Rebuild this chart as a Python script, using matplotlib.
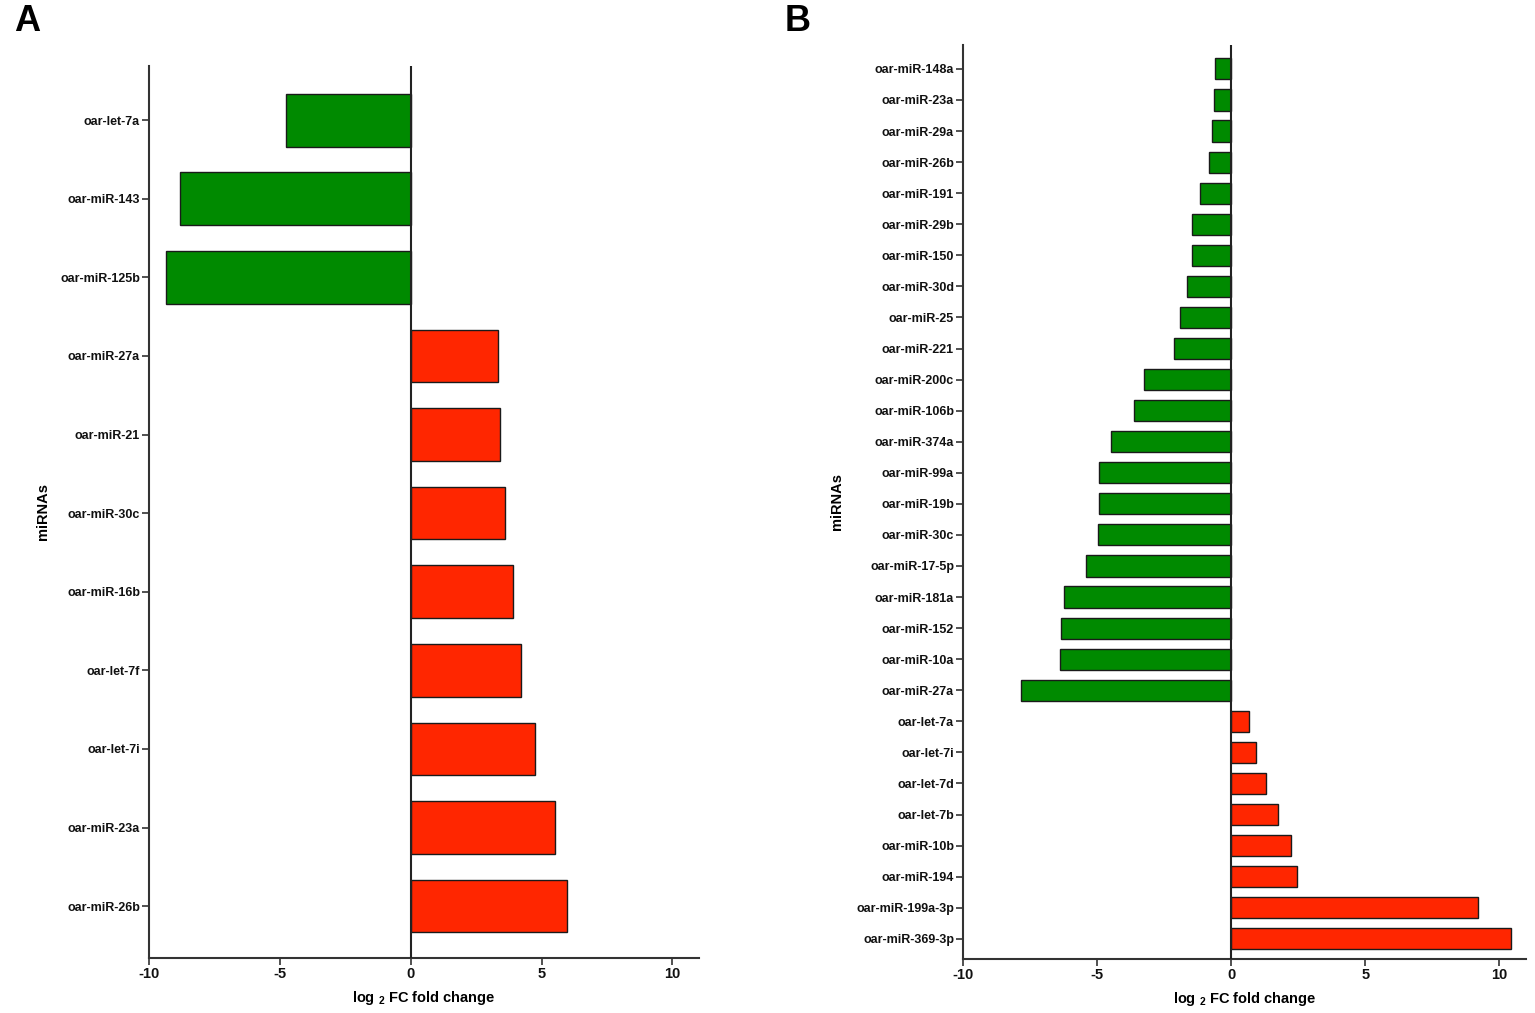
import matplotlib
matplotlib.use("Agg")
import matplotlib.pyplot as plt

plt.rcParams['font.family'] = ['Liberation Sans', 'DejaVu Sans']
plt.rcParams['font.weight'] = 'bold'
plt.rcParams['mathtext.fontset'] = 'custom'
plt.rcParams['mathtext.rm'] = 'Liberation Sans:bold'
plt.rcParams['mathtext.bf'] = 'Liberation Sans:bold'

# Panel A data (top to bottom)
labels_a = ["oar-let-7a", "oar-miR-143", "oar-miR-125b", "oar-miR-27a", "oar-miR-21",
            "oar-miR-30c", "oar-miR-16b", "oar-let-7f", "oar-let-7i", "oar-miR-23a",
            "oar-miR-26b"]
values_a = [-4.77, -8.82, -9.35, 3.32, 3.40, 3.59, 3.89, 4.20, 4.73, 5.53, 5.99]

# Panel B data (top to bottom)
labels_b = ["oar-miR-148a", "oar-miR-23a", "oar-miR-29a", "oar-miR-26b", "oar-miR-191",
            "oar-miR-29b", "oar-miR-150", "oar-miR-30d", "oar-miR-25", "oar-miR-221",
            "oar-miR-200c", "oar-miR-106b", "oar-miR-374a", "oar-miR-99a", "oar-miR-19b",
            "oar-miR-30c", "oar-miR-17-5p", "oar-miR-181a", "oar-miR-152", "oar-miR-10a",
            "oar-miR-27a", "oar-let-7a", "oar-let-7i", "oar-let-7d", "oar-let-7b",
            "oar-miR-10b", "oar-miR-194", "oar-miR-199a-3p", "oar-miR-369-3p"]
values_b = [-0.60, -0.63, -0.71, -0.82, -1.16, -1.46, -1.46, -1.64, -1.90, -2.13,
            -3.25, -3.62, -4.48, -4.93, -4.93, -4.96, -5.41, -6.23, -6.34, -6.38,
            -7.84, 0.67, 0.93, 1.31, 1.75, 2.24, 2.46, 9.22, 10.45]

xticks = [-10, -5, 0, 5, 10]
xtick_labels = ["-10", "-5", "0", "5", "10"]

GREEN = "#008a00"
RED = "#ff2600"
SPINE = "#333333"

fig = plt.figure(figsize=(15.35, 10.13), dpi=100)

def draw(ax, labels, values, height, ylim_top, ylim_bot):
    n = len(labels)
    pos = list(range(n))
    colors = [GREEN if v < 0 else RED for v in values]
    ax.barh(pos, values, height=height, color=colors, edgecolor="#1a1a1a", linewidth=1.0, zorder=2)
    ax.set_ylim(n - 1 + ylim_bot, -ylim_top)
    ax.set_xlim(-10, 11)
    ax.set_yticks(pos)
    ax.set_yticklabels(labels, fontsize=9, fontweight='bold', color='#111111')
    ax.set_xticks(xticks)
    ax.set_xticklabels(xtick_labels, fontsize=10.5, fontweight='bold', color='#111111')
    for s in ["top", "right"]:
        ax.spines[s].set_visible(False)
    for s in ["left", "bottom"]:
        ax.spines[s].set_color(SPINE)
        ax.spines[s].set_linewidth(1.5)
    ax.axvline(0, color="#222222", linewidth=1.5, zorder=3)
    ax.tick_params(axis='both', direction='out', length=5, width=1.2, color=SPINE, pad=1.5)
    ax.set_xlabel(r"log $_{2}$ FC fold change", fontsize=10.5, fontweight='bold', labelpad=6)
    ax.set_ylabel("miRNAs", fontsize=10.5, fontweight='bold')

axA = fig.add_axes([0.0971, 0.0543, 0.358, 0.8806])
draw(axA, labels_a, values_a, 0.67, 0.69, 0.66)
axA.yaxis.set_label_coords(-0.18, 0.5)

axB = fig.add_axes([0.6274, 0.0533, 0.3668, 0.9023])
draw(axB, labels_b, values_b, 0.68, 0.77, 0.65)
axB.yaxis.set_label_coords(-0.212, 0.5)

fig.text(0.0176, 0.979, "A", fontsize=26, fontweight='bold', va='center', ha='center')
fig.text(0.5195, 0.979, "B", fontsize=26, fontweight='bold', va='center', ha='center')

fig.savefig("out.png", dpi=100, facecolor="white")
